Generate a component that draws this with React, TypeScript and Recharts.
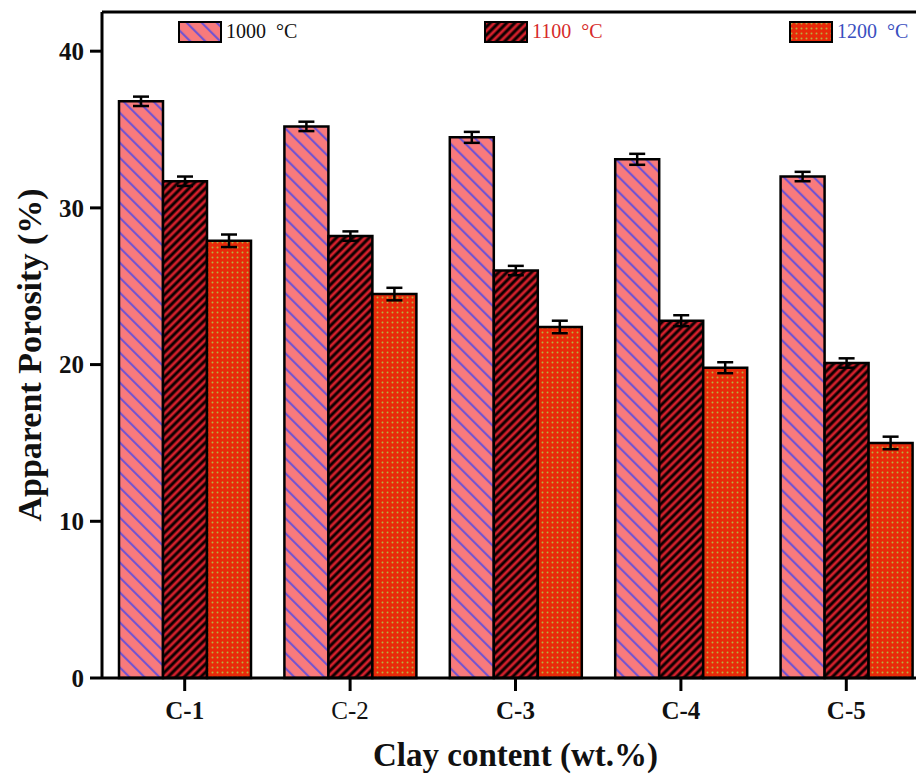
import { BarChart, Bar, XAxis, YAxis, ErrorBar, ReferenceLine, Label } from 'recharts';

const categories = ['C-1', 'C-2', 'C-3', 'C-4', 'C-5'];
const porosity1000 = [36.8, 35.2, 34.5, 33.1, 32.0];
const porosity1100 = [31.7, 28.2, 26.0, 22.8, 20.1];
const porosity1200 = [27.9, 24.5, 22.4, 19.8, 15.0];
const err1000 = [0.3, 0.3, 0.35, 0.35, 0.3];
const err1100 = [0.3, 0.3, 0.3, 0.35, 0.3];
const err1200 = [0.4, 0.4, 0.4, 0.35, 0.4];
const yTicks = [0, 10, 20, 30, 40];

const data = categories.map((c, i) => ({
  name: c,
  t1000: porosity1000[i],
  t1100: porosity1100[i],
  t1200: porosity1200[i],
  e1000: err1000[i],
  e1100: err1100[i],
  e1200: err1200[i],
}));

const FONT = '"Liberation Serif", "DejaVu Serif", serif';

const legendItems = [
  { label: '1000\u00a0 °C', fill: 'url(#pat1000)', color: '#111', left: 178 },
  { label: '1100\u00a0 °C', fill: 'url(#pat1100)', color: '#d62a2a', left: 484 },
  { label: '1200\u00a0 °C', fill: 'url(#pat1200)', color: '#3a4fc0', left: 789 },
];

const XTick = ({ x, y, payload }: any) => (
  <text
    x={x}
    y={y}
    dy="0.71em"
    textAnchor="middle"
    fontFamily={FONT}
    fontSize={25}
    fontWeight={payload.value === 'C-2' ? 'normal' : 'bold'}
    fill="#111"
  >
    {payload.value}
  </text>
);

const Patterns = () => (
  <defs>
    <pattern id="pat1000" width={10.6} height={10.6} patternUnits="userSpaceOnUse" patternTransform="rotate(-45)">
      <rect width={10.6} height={10.6} fill="#f87a7c" />
      <line x1={5} y1={0} x2={5} y2={10.6} stroke="#6650d8" strokeWidth={2} />
    </pattern>
    <pattern id="pat1100" width={5.8} height={5.8} patternUnits="userSpaceOnUse" patternTransform="rotate(45)">
      <rect width={5.8} height={5.8} fill="#0c0000" />
      <line x1={2.9} y1={0} x2={2.9} y2={5.8} stroke="#d4202c" strokeWidth={2.8} />
    </pattern>
    <pattern id="pat1200" width={5} height={5} patternUnits="userSpaceOnUse">
      <rect width={5} height={5} fill="#e82a0a" />
      <circle cx={2.5} cy={2.5} r={1} fill="#b8b040" />
    </pattern>
  </defs>
);

export default function App() {
  return (
    <div style={{ position: 'fixed', left: 0, top: 0, width: 916, height: 779, overflow: 'hidden', background: '#fff' }}>
      <svg width={0} height={0} style={{ position: 'absolute' }}>
        <Patterns />
      </svg>
      <BarChart
        width={945}
        height={779}
        data={data}
        margin={{ top: 12, right: 16, left: 20, bottom: 51 }}
        barCategoryGap={17}
        barGap={0}
      >
        <XAxis
          dataKey="name"
          height={50}
          tick={<XTick />}
          tickSize={13}
          tickMargin={10}
          axisLine={{ stroke: '#000', strokeWidth: 3 }}
          tickLine={{ stroke: '#000', strokeWidth: 3 }}
        >
          <Label
            value="Clay content (wt.%)"
            position="bottom"
            offset={15}
            style={{ fontFamily: FONT, fontSize: 33, fontWeight: 'bold', fill: '#111' }}
          />
        </XAxis>
        <YAxis
          width={82}
          domain={[0, 42.5]}
          ticks={yTicks}
          tickSize={12}
          tickMargin={6}
          tick={{ fontFamily: FONT, fontSize: 25, fontWeight: 'bold', fill: '#111' }}
          axisLine={{ stroke: '#000', strokeWidth: 3 }}
          tickLine={{ stroke: '#000', strokeWidth: 3 }}
        >
          <Label
            content={({ viewBox }: any) => {
              const cy = viewBox.y + viewBox.height / 2 + 10;
              return (
                <text
                  x={29}
                  y={cy}
                  transform={`rotate(-90, 29, ${cy})`}
                  textAnchor="middle"
                  dominantBaseline="central"
                  fontFamily={FONT}
                  fontSize={34}
                  fontWeight="bold"
                  fill="#111"
                >
                  Apparent Porosity (%)
                </text>
              );
            }}
          />
        </YAxis>
        <ReferenceLine y={42.5} stroke="#000" strokeWidth={3} />
        <Bar dataKey="t1000" name="1000 °C" fill="url(#pat1000)" stroke="#000" strokeWidth={2.5} isAnimationActive={false}>
          <ErrorBar dataKey="e1000" width={8} stroke="#000" strokeWidth={2.5} />
        </Bar>
        <Bar dataKey="t1100" name="1100 °C" fill="url(#pat1100)" stroke="#000" strokeWidth={2.5} isAnimationActive={false}>
          <ErrorBar dataKey="e1100" width={8} stroke="#000" strokeWidth={2.5} />
        </Bar>
        <Bar dataKey="t1200" name="1200 °C" fill="url(#pat1200)" stroke="#000" strokeWidth={2.5} isAnimationActive={false}>
          <ErrorBar dataKey="e1200" width={8} stroke="#000" strokeWidth={2.5} />
        </Bar>
      </BarChart>
      {legendItems.map((it) => (
        <div
          key={it.label}
          style={{ position: 'absolute', top: 20, left: it.left, display: 'flex', alignItems: 'center', fontFamily: FONT, fontSize: 20, color: it.color }}
        >
          <svg width={44} height={22} style={{ marginRight: 4 }}>
            <rect x={1} y={1} width={42} height={20} fill={it.fill} stroke="#000" strokeWidth={2} />
          </svg>
          <span>{it.label}</span>
        </div>
      ))}
    </div>
  );
}
